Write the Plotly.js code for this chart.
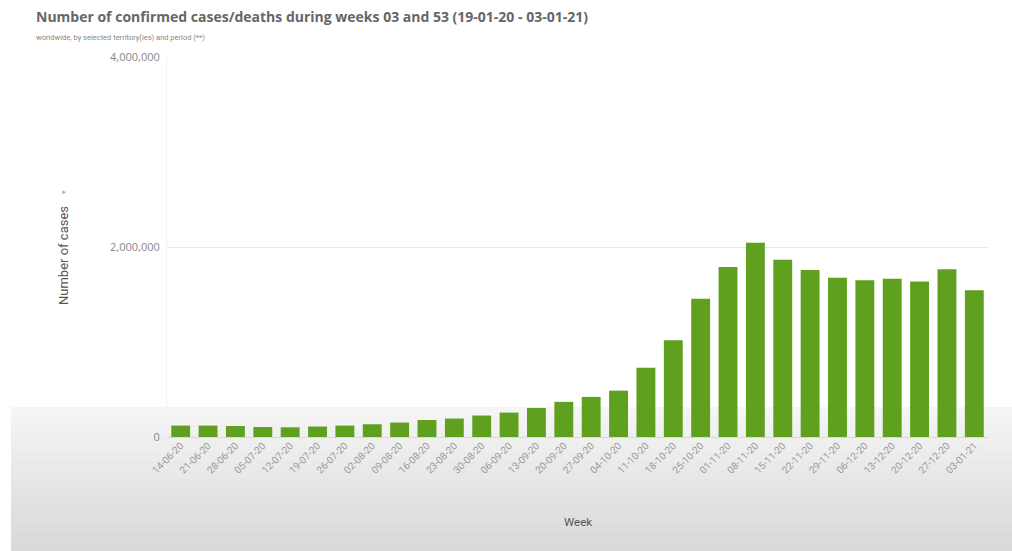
<!DOCTYPE html>
<html>
<head>
<meta charset="utf-8">
<script src="https://cdn.plot.ly/plotly-3.0.1.min.js"></script>
<style>html,body{margin:0;padding:0;background:#fff;}#chart{width:1012px;height:551px;}</style>
</head>
<body>
<div id="chart"></div>
<script>
// ---- data ----
const weeks = ["14-06-20","21-06-20","28-06-20","05-07-20","12-07-20","19-07-20","26-07-20","02-08-20","09-08-20","16-08-20","23-08-20","30-08-20","06-09-20","13-09-20","20-09-20","27-09-20","04-10-20","11-10-20","18-10-20","25-10-20","01-11-20","08-11-20","15-11-20","22-11-20","29-11-20","06-12-20","13-12-20","20-12-20","27-12-20","03-01-21"];
const cases = [120000,120000,116000,105000,102000,110000,120000,134000,152000,179000,194000,226000,257000,306000,370000,422000,488000,728000,1019000,1456000,1789000,2046000,1867000,1757000,1677000,1649000,1667000,1638000,1765000,1546000];
const yTickVals = [0, 2000000, 4000000];
const yTickText = ["0", "2,000,000", "4,000,000"];

// ---- layout geometry ----
const W = 1012, H = 551;
const M = {l:167, r:24, t:57, b:114};
const pw = W - M.l - M.r, ph = H - M.t - M.b;
const px = x => (x - M.l) / pw;
const py = y => (H - M.b - y) / ph;

// grey gradient band at the bottom (screenshot overlay)
const shapes = [];
const g0 = 407, g1 = H, n = 16;
for (let i = 0; i < n; i++) {
  const ya = g0 + (g1 - g0) * i / n, yb = g0 + (g1 - g0) * (i + 1) / n;
  const c = Math.round(246 - (246 - 216) * (i + 0.5) / n);
  shapes.push({type:'rect', xref:'paper', yref:'paper', layer:'below',
    x0: px(11), x1: px(W), y0: py(yb), y1: py(ya),
    fillcolor:`rgb(${c},${c},${c})`, line:{width:0}});
}

const trace = {
  type:'bar', x: weeks, y: cases,
  marker:{color:'#5fa01e', line:{width:0}},
  hoverinfo:'x+y'
};

const layout = {
  width: W, height: H,
  margin: M,
  paper_bgcolor:'#ffffff', plot_bgcolor:'rgba(0,0,0,0)',
  font:{family:'Roboto, Open Sans, sans-serif', color:'#888'},
  showlegend:false,
  bargap:0.31,
  title:{text:'Number of confirmed cases/deaths during weeks 03 and 53 (19-01-20 - 03-01-21)',
    font:{size:14, color:'#666', family:'Open Sans, sans-serif', weight:'bold'},
    xref:'container', yref:'container', x:36/W, xanchor:'left', y:1-17/H, yanchor:'middle'},
  xaxis:{
    type:'category', tickangle:-45, tickfont:{size:10, color:'#999'},
    showgrid:false, showline:false, ticks:'', automargin:false,
    title:{text:''}
  },
  yaxis:{
    range:[0, 4000000], tickvals:yTickVals, ticktext:yTickText,
    tickfont:{size:11, color:'#888', family:'Open Sans, sans-serif'}, ticklabelstandoff:4,
    showgrid:true, gridcolor:'#e8e8e8', gridwidth:1,
    zeroline:true, zerolinecolor:'#cfe3b8', zerolinewidth:1,
    showline:true, linecolor:'#f2f2f2', ticks:'', automargin:false,
    title:{text:''}
  },
  shapes: shapes,
  annotations:[
    {text:'worldwide, by selected territory(ies) and period (**)', xref:'paper', yref:'paper',
     x:px(34), y:py(37), xanchor:'left', yanchor:'middle', showarrow:false,
     font:{size:7.5, color:'#888'}},
    {text:'Number of cases', xref:'paper', yref:'paper', x:px(63), y:py(256),
     xanchor:'center', yanchor:'middle', textangle:-90, showarrow:false,
     font:{size:13, color:'#555'}},
    {text:'▾', xref:'paper', yref:'paper', x:px(64), y:py(192),
     xanchor:'center', yanchor:'middle', textangle:-90, showarrow:false,
     font:{size:7, color:'#aaa'}},
    {text:'Week', xref:'paper', yref:'paper', x:px(578), y:py(522),
     xanchor:'center', yanchor:'middle', showarrow:false,
     font:{size:11.5, color:'#555'}}
  ]
};

Plotly.newPlot('chart', [trace], layout, {displayModeBar:false, responsive:false});
</script>
</body>
</html>
